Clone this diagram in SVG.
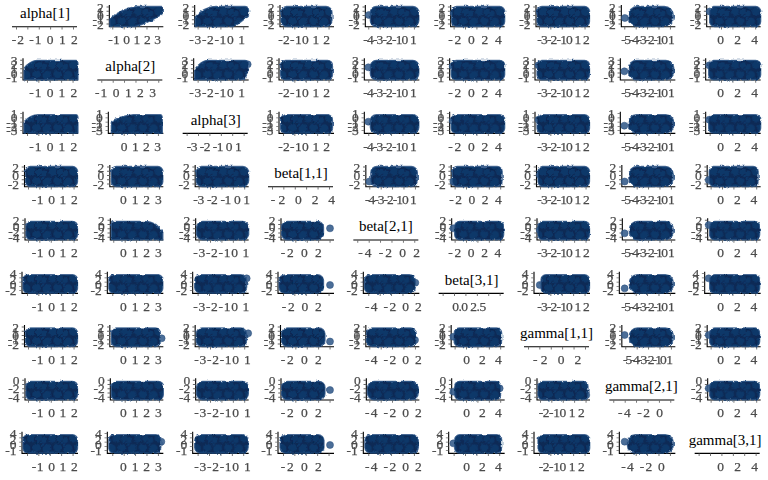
<svg xmlns="http://www.w3.org/2000/svg" width="768" height="480" viewBox="0 0 768 480">
<defs>
<style>
.ax{fill:none;stroke:#000;stroke-width:1.1}
.yt{fill:none;stroke:#666;stroke-width:2.6;stroke-dasharray:0.9 3.35}
.xt{fill:none;stroke:#666;stroke-width:2.6;stroke-dasharray:0.9 10.5}
.tl{font-family:"Liberation Serif","Times New Roman",serif;font-size:13.5px;fill:#4a4a4a;stroke:#4a4a4a;stroke-width:.25;opacity:.99}
.yl{text-anchor:end}
.tt{font-family:"Liberation Serif","Times New Roman",serif;font-size:15px;fill:#000;text-anchor:middle}
.cl{fill:url(#pts);stroke:#2b5384;stroke-width:1.3;stroke-opacity:.8;filter:url(#rough)}
.lo{fill:#375e8d;stroke:#284c7a;stroke-width:.5;fill-opacity:.9}
</style>
<filter id="rough" x="-10%" y="-25%" width="120%" height="150%">
<feTurbulence type="fractalNoise" baseFrequency="0.3" numOctaves="2" seed="4" result="n"/>
<feDisplacementMap in="SourceGraphic" in2="n" scale="3" xChannelSelector="R" yChannelSelector="G"/>
</filter>
<pattern id="pts" width="21" height="17" patternUnits="userSpaceOnUse">
<rect width="21" height="17" fill="#072a55"/>
<g fill="#0c3769" stroke="#03204a" stroke-width=".6">
<circle cx="5" cy="5" r="5"/><circle cx="15.5" cy="4" r="4.6"/><circle cx="10.5" cy="11.5" r="4.8"/>
<circle cx="2" cy="13.5" r="3.6"/><circle cx="18.5" cy="12.5" r="4.2"/><circle cx="21" cy="17" r="3"/><circle cx="0" cy="0" r="3"/>
</g>
</pattern>
<g id="dg"><path class="ax" d="M12,26.7H77"/><path class="xt" d="M16,28.1H77"/></g>
<g id="f0"><path class="ax" d="M24,5V26.7H78"/><path class="yt" d="M22.5,6.5V27"/><path class="xt" d="M27,28.1H77"/>
<g opacity=".99"><text class="tl yl" x="18.5" y="11.5">2</text><text class="tl yl" x="18.5" y="15.75">1</text><text class="tl yl" x="18.5" y="20">0</text><text class="tl yl" x="18.5" y="24.25">-1</text><text class="tl yl" x="18.5" y="28.5">-2</text></g></g>
<g id="f1"><path class="ax" d="M23,5V26.7H78"/><path class="yt" d="M21.5,6.5V27"/><path class="xt" d="M27,28.1H77"/>
<g opacity=".99"><text class="tl yl" x="17.5" y="11.5">3</text><text class="tl yl" x="17.5" y="15.75">2</text><text class="tl yl" x="17.5" y="20">1</text><text class="tl yl" x="17.5" y="24.25">0</text><text class="tl yl" x="17.5" y="28.5">-1</text></g></g>
<g id="f2"><path class="ax" d="M23,5V26.7H78"/><path class="yt" d="M21.5,6.5V27"/><path class="xt" d="M27,28.1H77"/>
<g opacity=".99"><text class="tl yl" x="17.5" y="11.5">1</text><text class="tl yl" x="17.5" y="15.75">0</text><text class="tl yl" x="17.5" y="20">-1</text><text class="tl yl" x="17.5" y="24.25">-2</text><text class="tl yl" x="17.5" y="28.5">-3</text></g></g>
<g id="f3"><path class="ax" d="M24.5,5V26.7H78"/><path class="yt" d="M23,6.5V27"/><path class="xt" d="M28,28.1H77"/>
<g opacity=".99"><text class="tl yl" x="19" y="11.5">2</text><text class="tl yl" x="19" y="20">0</text><text class="tl yl" x="19" y="28.5">-2</text></g></g>
<g id="f4"><path class="ax" d="M25,5V26.7H78"/><path class="yt" d="M23.5,6.5V27"/><path class="xt" d="M28,28.1H77"/>
<g opacity=".99"><text class="tl yl" x="19.5" y="11.5">2</text><text class="tl yl" x="19.5" y="17.2">0</text><text class="tl yl" x="19.5" y="22.8">-2</text><text class="tl yl" x="19.5" y="28.5">-4</text></g></g>
<g id="f5"><path class="ax" d="M22,5V26.7H78"/><path class="yt" d="M20.5,6.5V27"/><path class="xt" d="M27,28.1H77"/>
<g opacity=".99"><text class="tl yl" x="16.5" y="11.5">4</text><text class="tl yl" x="16.5" y="17.2">2</text><text class="tl yl" x="16.5" y="22.8">0</text><text class="tl yl" x="16.5" y="28.5">-2</text></g></g>
<g id="f6"><path class="ax" d="M24.5,5V26.7H78"/><path class="yt" d="M23,6.5V27"/><path class="xt" d="M28,28.1H77"/>
<g opacity=".99"><text class="tl yl" x="19" y="11.5">2</text><text class="tl yl" x="19" y="15.75">1</text><text class="tl yl" x="19" y="20">0</text><text class="tl yl" x="19" y="24.25">-1</text><text class="tl yl" x="19" y="28.5">-2</text></g></g>
<g id="f7"><path class="ax" d="M25,5V26.7H78"/><path class="yt" d="M23.5,6.5V27"/><path class="xt" d="M28,28.1H77"/>
<g opacity=".99"><text class="tl yl" x="19.5" y="11.5">0</text><text class="tl yl" x="19.5" y="20">-2</text><text class="tl yl" x="19.5" y="28.5">-4</text></g></g>
<g id="f8"><path class="ax" d="M22,5V26.7H78"/><path class="yt" d="M20.5,6.5V27"/><path class="xt" d="M27,28.1H77"/>
<g opacity=".99"><text class="tl yl" x="16.5" y="11.5">4</text><text class="tl yl" x="16.5" y="17.2">2</text><text class="tl yl" x="16.5" y="22.8">0</text><text class="tl yl" x="16.5" y="28.5">-1</text></g></g>
</defs>
<rect width="768" height="480" fill="#fff"/>

<!-- Row 0 -->
<g id="p00" transform="translate(0,0)"><use href="#dg"/><text class="tt" x="45" y="18">alpha[1]</text><text class="tl" x="11.7" y="44" textLength="66" lengthAdjust="spacing">-2 -1 0 1 2</text></g>
<g id="p01" transform="translate(85.33,0)"><use href="#f0"/><path class="cl" d="M24.5,26.5V19C30,14 40,8 52,6.5H76C77.5,6.5 78,8 78,9.5V13C72,18 60,24 50,26.5Z"/><text class="tl" x="23" y="44" textLength="52.7" lengthAdjust="spacing">-1 0 1 2 3</text></g>
<g id="p02" transform="translate(170.67,0)"><use href="#f0"/><path class="cl" d="M24.5,26.5V17C30,11 36,7 44,6.5H74C77,6.5 78,9 78,11V15C74,19 68,24 63,26.5Z"/><text class="tl" x="18.7" y="44" textLength="55.7" lengthAdjust="spacing">-3-2-10 1</text></g>
<g id="p03" transform="translate(256,0)"><use href="#f0"/><rect class="cl" x="25" y="6.5" width="51" height="20" rx="6"/><text class="tl" x="22.3" y="44" textLength="51.7" lengthAdjust="spacing">-2-10 1 2</text></g>
<g id="p04" transform="translate(341.33,0)"><use href="#f0"/><circle class="lo" cx="27.5" cy="15" r="3.5"/><rect class="cl" x="29" y="6.5" width="48.5" height="20" rx="6"/><text class="tl" x="22" y="44" textLength="53.4" lengthAdjust="spacing">-4-3-2-10 1</text></g>
<g id="p05" transform="translate(426.67,0)"><use href="#f0"/><circle class="lo" cx="27" cy="13" r="3.5"/><rect class="cl" x="25" y="6.5" width="53" height="20" rx="5"/><text class="tl" x="21.6" y="44" textLength="53.4" lengthAdjust="spacing">-2 0 2 4</text></g>
<g id="p06" transform="translate(512,0)"><use href="#f0"/><circle class="lo" cx="27.5" cy="11.5" r="3.5"/><rect class="cl" x="25" y="6.5" width="52.5" height="20" rx="5"/><text class="tl" x="25.3" y="44" textLength="52.4" lengthAdjust="spacing">-3-2-10 1 2</text></g>
<g id="p07" transform="translate(597.33,0)"><use href="#f0"/><circle class="lo" cx="27.5" cy="18" r="3.5"/><rect class="cl" x="31" y="6.5" width="45" height="20" rx="9"/><text class="tl" x="24" y="44" textLength="53.4" lengthAdjust="spacing">-5-4-3-2-10 1</text></g>
<g id="p08" transform="translate(682.67,0)"><use href="#f0"/><circle class="lo" cx="27" cy="11.5" r="3.5"/><rect class="cl" x="27" y="6.5" width="51" height="20" rx="5"/><text class="tl" x="34.6" y="44" textLength="40.7" lengthAdjust="spacing">0 2 4</text></g>

<!-- Row 1 -->
<g id="p10" transform="translate(0,53.33)"><use href="#f1"/><path class="cl" d="M24,26.5V15C27,11 31,7.5 37,7H76C77.5,7 78,9 78,11V26.5Z"/><text class="tl" x="29.3" y="44" textLength="48" lengthAdjust="spacing">-1 0 1 2</text></g>
<g id="p11" transform="translate(85.33,53.33)"><use href="#dg"/><text class="tt" x="45" y="18">alpha[2]</text><text class="tl" x="9.7" y="44" textLength="61" lengthAdjust="spacing">-1 0 1 2 3</text></g>
<g id="p12" transform="translate(170.67,53.33)"><use href="#f1"/><circle class="lo" cx="77" cy="11" r="3.5"/><path class="cl" d="M24,26.5V16C27,12 31,7.5 37,7H74C77,7 78,9 78,12L77,18C76,22 75,26.5 70,26.5Z"/><text class="tl" x="18.7" y="44" textLength="55.7" lengthAdjust="spacing">-3-2-10 1</text></g>
<g id="p13" transform="translate(256,53.33)"><use href="#f1"/><rect class="cl" x="24.5" y="7" width="52" height="19.5" rx="5"/><text class="tl" x="22.3" y="44" textLength="51.7" lengthAdjust="spacing">-2-10 1 2</text></g>
<g id="p14" transform="translate(341.33,53.33)"><use href="#f1"/><circle class="lo" cx="27" cy="14" r="3.5"/><rect class="cl" x="29" y="7" width="48.5" height="19.5" rx="6"/><text class="tl" x="22" y="44" textLength="53.4" lengthAdjust="spacing">-4-3-2-10 1</text></g>
<g id="p15" transform="translate(426.67,53.33)"><use href="#f1"/><circle class="lo" cx="26" cy="13" r="3.5"/><rect class="cl" x="24.5" y="7" width="53.5" height="19.5" rx="5"/><text class="tl" x="21.6" y="44" textLength="53.4" lengthAdjust="spacing">-2 0 2 4</text></g>
<g id="p16" transform="translate(512,53.33)"><use href="#f1"/><circle class="lo" cx="26.5" cy="12" r="3.5"/><rect class="cl" x="25" y="7" width="52.5" height="19.5" rx="5"/><text class="tl" x="25.3" y="44" textLength="52.4" lengthAdjust="spacing">-3-2-10 1 2</text></g>
<g id="p17" transform="translate(597.33,53.33)"><use href="#f1"/><circle class="lo" cx="27" cy="18" r="3.5"/><rect class="cl" x="31" y="7" width="45.5" height="19.5" rx="8"/><text class="tl" x="24" y="44" textLength="53.4" lengthAdjust="spacing">-5-4-3-2-10 1</text></g>
<g id="p18" transform="translate(682.67,53.33)"><use href="#f1"/><circle class="lo" cx="26.5" cy="12" r="3.5"/><rect class="cl" x="26" y="7" width="52" height="19.5" rx="5"/><text class="tl" x="34.6" y="44" textLength="40.7" lengthAdjust="spacing">0 2 4</text></g>

<!-- Row 2 -->
<g id="p20" transform="translate(0,106.67)"><use href="#f2"/><path class="cl" d="M24,26.5V15C28,11 32,8 38,8H76C77.5,8 78,10 78,12V26.5Z"/><text class="tl" x="29.3" y="44" textLength="48" lengthAdjust="spacing">-1 0 1 2</text></g>
<g id="p21" transform="translate(85.33,106.67)"><use href="#f2"/><path class="cl" d="M26,26.5V15C30,12 38,9 48,8H75C76.5,8 77,10 77,12V26.5Z"/><text class="tl" x="35.4" y="44" textLength="40.3" lengthAdjust="spacing">0 1 2 3</text></g>
<g id="p22" transform="translate(170.67,106.67)"><use href="#dg"/><text class="tt" x="45" y="18">alpha[3]</text><text class="tl" x="16" y="44" textLength="55" lengthAdjust="spacing">-3 -2 -1 0 1</text></g>
<g id="p23" transform="translate(256,106.67)"><use href="#f2"/><rect class="cl" x="24.5" y="8" width="52" height="18.5" rx="5"/><text class="tl" x="22.3" y="44" textLength="51.7" lengthAdjust="spacing">-2-10 1 2</text></g>
<g id="p24" transform="translate(341.33,106.67)"><use href="#f2"/><circle class="lo" cx="27" cy="15" r="3.5"/><rect class="cl" x="29" y="8" width="48.5" height="18.5" rx="6"/><text class="tl" x="22" y="44" textLength="53.4" lengthAdjust="spacing">-4-3-2-10 1</text></g>
<g id="p25" transform="translate(426.67,106.67)"><use href="#f2"/><circle class="lo" cx="26" cy="14" r="3.5"/><rect class="cl" x="24.5" y="8" width="53.5" height="18.5" rx="5"/><text class="tl" x="21.6" y="44" textLength="53.4" lengthAdjust="spacing">-2 0 2 4</text></g>
<g id="p26" transform="translate(512,106.67)"><use href="#f2"/><circle class="lo" cx="26.5" cy="13" r="3.5"/><rect class="cl" x="25" y="8" width="52.5" height="18.5" rx="5"/><text class="tl" x="25.3" y="44" textLength="52.4" lengthAdjust="spacing">-3-2-10 1 2</text></g>
<g id="p27" transform="translate(597.33,106.67)"><use href="#f2"/><circle class="lo" cx="27" cy="19" r="3.5"/><rect class="cl" x="31" y="8" width="45.5" height="18.5" rx="8"/><text class="tl" x="24" y="44" textLength="53.4" lengthAdjust="spacing">-5-4-3-2-10 1</text></g>
<g id="p28" transform="translate(682.67,106.67)"><use href="#f2"/><circle class="lo" cx="26.5" cy="13" r="3.5"/><rect class="cl" x="26" y="8" width="52" height="18.5" rx="5"/><text class="tl" x="34.6" y="44" textLength="40.7" lengthAdjust="spacing">0 2 4</text></g>

<!-- Row 3 -->
<g id="p30" transform="translate(0,160)"><use href="#f3"/><rect class="cl" x="25.5" y="6.5" width="52" height="20" rx="5"/><text class="tl" x="31.7" y="44" textLength="46" lengthAdjust="spacing">-1 0 1 2</text></g>
<g id="p31" transform="translate(85.33,160)"><use href="#f3"/><rect class="cl" x="26" y="6.5" width="51.5" height="20" rx="5"/><text class="tl" x="34.7" y="44" textLength="41.7" lengthAdjust="spacing">0 1 2 3</text></g>
<g id="p32" transform="translate(170.67,160)"><use href="#f3"/><rect class="cl" x="25.5" y="6.5" width="52.5" height="20" rx="6"/><text class="tl" x="22.7" y="44" textLength="56.7" lengthAdjust="spacing">-3 -2 -1 0 1</text></g>
<g id="p33" transform="translate(256,160)"><use href="#dg"/><text class="tt" x="45" y="18">beta[1,1]</text><text class="tl" x="14.7" y="44" textLength="64.3" lengthAdjust="spacing">-2 0 2 4</text></g>
<g id="p34" transform="translate(341.33,160)"><use href="#f3"/><circle class="lo" cx="28" cy="21.5" r="3.5"/><rect class="cl" x="29.5" y="6.5" width="46.5" height="20" rx="6"/><text class="tl" x="23.7" y="44" textLength="51.7" lengthAdjust="spacing">-4-3-2-10 1</text></g>
<g id="p35" transform="translate(426.67,160)"><use href="#f3"/><circle class="lo" cx="26.7" cy="21.5" r="3.5"/><rect class="cl" x="25.5" y="6.5" width="50" height="20" rx="5"/><text class="tl" x="22.6" y="44" textLength="52.4" lengthAdjust="spacing">-2 0 2 4</text></g>
<g id="p36" transform="translate(512,160)"><use href="#f3"/><circle class="lo" cx="27.7" cy="15" r="3.5"/><rect class="cl" x="26" y="6.5" width="51.5" height="20" rx="5"/><text class="tl" x="25.3" y="44" textLength="52.4" lengthAdjust="spacing">-3-2-10 1 2</text></g>
<g id="p37" transform="translate(597.33,160)"><use href="#f3"/><circle class="lo" cx="27.3" cy="21.5" r="3.5"/><rect class="cl" x="31.5" y="6.5" width="44.5" height="20" rx="8"/><text class="tl" x="24" y="44" textLength="53.4" lengthAdjust="spacing">-5-4-3-2-10 1</text></g>
<g id="p38" transform="translate(682.67,160)"><use href="#f3"/><circle class="lo" cx="26" cy="20" r="3.5"/><rect class="cl" x="26.5" y="6.5" width="49" height="20" rx="5"/><text class="tl" x="34.6" y="44" textLength="40" lengthAdjust="spacing">0 2 4</text></g>

<!-- Row 4 -->
<g id="p40" transform="translate(0,213.33)"><use href="#f4"/><rect class="cl" x="26" y="8" width="51.5" height="18.5" rx="5"/><text class="tl" x="31.7" y="44" textLength="46" lengthAdjust="spacing">-1 0 1 2</text></g>
<g id="p41" transform="translate(85.33,213.33)"><use href="#f4"/><path class="cl" d="M26,26.5V10.5C26,9 27.5,8 29.5,8H60C68,8 74,13 77.5,19V26.5Z"/><text class="tl" x="34.7" y="44" textLength="41.7" lengthAdjust="spacing">0 1 2 3</text></g>
<g id="p42" transform="translate(170.67,213.33)"><use href="#f4"/><rect class="cl" x="26" y="8" width="52" height="18.5" rx="6"/><text class="tl" x="22.7" y="44" textLength="56" lengthAdjust="spacing">-3-2-10 1</text></g>
<g id="p43" transform="translate(256,213.33)"><use href="#f4"/><circle class="lo" cx="74" cy="15" r="3.5"/><rect class="cl" x="25.5" y="8" width="42" height="18.5" rx="6"/><text class="tl" x="24.7" y="44" textLength="41" lengthAdjust="spacing">-2 0 2</text></g>
<g id="p44" transform="translate(341.33,213.33)"><use href="#dg"/><text class="tt" x="44.5" y="18">beta[2,1]</text><text class="tl" x="17" y="44" textLength="61.7" lengthAdjust="spacing">-4 -2 0 2</text></g>
<g id="p45" transform="translate(426.67,213.33)"><use href="#f4"/><circle class="lo" cx="26.7" cy="15" r="3.5"/><rect class="cl" x="28" y="8" width="49" height="18.5" rx="5"/><text class="tl" x="21.6" y="44" textLength="53" lengthAdjust="spacing">-2 0 2 4</text></g>
<g id="p46" transform="translate(512,213.33)"><use href="#f4"/><circle class="lo" cx="27.7" cy="16.7" r="3.5"/><rect class="cl" x="26" y="8" width="51.5" height="18.5" rx="5"/><text class="tl" x="25.3" y="44" textLength="52.4" lengthAdjust="spacing">-3-2-10 1 2</text></g>
<g id="p47" transform="translate(597.33,213.33)"><use href="#f4"/><circle class="lo" cx="27.3" cy="20" r="3.5"/><rect class="cl" x="32" y="8" width="44" height="18.5" rx="8"/><text class="tl" x="24" y="44" textLength="53.4" lengthAdjust="spacing">-5-4-3-2-10 1</text></g>
<g id="p48" transform="translate(682.67,213.33)"><use href="#f4"/><circle class="lo" cx="26" cy="11.7" r="3.5"/><rect class="cl" x="27" y="8" width="50" height="18.5" rx="5"/><text class="tl" x="34.6" y="44" textLength="40" lengthAdjust="spacing">0 2 4</text></g>

<!-- Row 5 -->
<g id="p50" transform="translate(0,266.67)"><use href="#f5"/><rect class="cl" x="23" y="8" width="54.5" height="18.5" rx="5"/><text class="tl" x="31.7" y="44" textLength="46" lengthAdjust="spacing">-1 0 1 2</text></g>
<g id="p51" transform="translate(85.33,266.67)"><use href="#f5"/><rect class="cl" x="23.5" y="8" width="54" height="18.5" rx="5"/><text class="tl" x="34.7" y="44" textLength="41.7" lengthAdjust="spacing">0 1 2 3</text></g>
<g id="p52" transform="translate(170.67,266.67)"><use href="#f5"/><circle class="lo" cx="76" cy="11.7" r="3.5"/><rect class="cl" x="24" y="8" width="52" height="18.5" rx="6"/><text class="tl" x="22.7" y="44" textLength="56" lengthAdjust="spacing">-3-2-10 1</text></g>
<g id="p53" transform="translate(256,266.67)"><use href="#f5"/><circle class="lo" cx="74" cy="18.3" r="3.5"/><rect class="cl" x="23" y="8" width="44.5" height="18.5" rx="6"/><text class="tl" x="25.7" y="44" textLength="40" lengthAdjust="spacing">-2 0 2</text></g>
<g id="p54" transform="translate(341.33,266.67)"><use href="#f5"/><circle class="lo" cx="74" cy="16" r="3.5"/><rect class="cl" x="23" y="8" width="51" height="18.5" rx="6"/><text class="tl" x="23.7" y="44" textLength="56.7" lengthAdjust="spacing">-4 -2 0 2</text></g>
<g id="p55" transform="translate(426.67,266.67)"><use href="#dg"/><text class="tt" x="45" y="18">beta[3,1]</text><text class="tl" x="25.5" y="44" textLength="34" lengthAdjust="spacing">0.0 2.5</text></g>
<g id="p56" transform="translate(512,266.67)"><use href="#f5"/><circle class="lo" cx="27.7" cy="18.3" r="3.5"/><rect class="cl" x="29" y="8" width="48.5" height="18.5" rx="5"/><text class="tl" x="25.3" y="44" textLength="52.4" lengthAdjust="spacing">-3-2-10 1 2</text></g>
<g id="p57" transform="translate(597.33,266.67)"><use href="#f5"/><circle class="lo" cx="27.3" cy="21.7" r="3.5"/><rect class="cl" x="32" y="8" width="44" height="18.5" rx="8"/><text class="tl" x="24" y="44" textLength="53.4" lengthAdjust="spacing">-5-4-3-2-10 1</text></g>
<g id="p58" transform="translate(682.67,266.67)"><use href="#f5"/><circle class="lo" cx="26" cy="11.7" r="3.5"/><rect class="cl" x="27" y="8" width="50" height="18.5" rx="5"/><text class="tl" x="34.6" y="44" textLength="40" lengthAdjust="spacing">0 2 4</text></g>

<!-- Row 6 -->
<g id="p60" transform="translate(0,320)"><use href="#f6"/><rect class="cl" x="25.5" y="8" width="52" height="18.5" rx="5"/><text class="tl" x="31.7" y="44" textLength="46" lengthAdjust="spacing">-1 0 1 2</text></g>
<g id="p61" transform="translate(85.33,320)"><use href="#f6"/><circle class="lo" cx="76.3" cy="18.3" r="3.5"/><rect class="cl" x="26" y="8" width="49" height="18.5" rx="5"/><text class="tl" x="34.7" y="44" textLength="41.7" lengthAdjust="spacing">0 1 2 3</text></g>
<g id="p62" transform="translate(170.67,320)"><use href="#f6"/><circle class="lo" cx="77.5" cy="13.3" r="3.5"/><rect class="cl" x="25.5" y="8" width="50.5" height="18.5" rx="6"/><text class="tl" x="23.6" y="44" textLength="56.4" lengthAdjust="spacing">-3-2-10 1</text></g>
<g id="p63" transform="translate(256,320)"><use href="#f6"/><circle class="lo" cx="74" cy="21.5" r="3.5"/><rect class="cl" x="25.5" y="8" width="43.5" height="18.5" rx="6"/><text class="tl" x="24.7" y="44" textLength="41" lengthAdjust="spacing">-2 0 2</text></g>
<g id="p64" transform="translate(341.33,320)"><use href="#f6"/><circle class="lo" cx="73.7" cy="20" r="3.5"/><rect class="cl" x="25" y="8" width="50" height="18.5" rx="6"/><text class="tl" x="23.7" y="44" textLength="56.7" lengthAdjust="spacing">-4 -2 0 2</text></g>
<g id="p65" transform="translate(426.67,320)"><use href="#f6"/><circle class="lo" cx="26.7" cy="16.7" r="3.5"/><rect class="cl" x="27.5" y="8" width="47.5" height="18.5" rx="5"/><text class="tl" x="36.6" y="44" textLength="38.4" lengthAdjust="spacing">0 2 4</text></g>
<g id="p66" transform="translate(512,320)"><use href="#dg"/><text class="tt" x="44.5" y="18">gamma[1,1]</text><text class="tl" x="21" y="44" textLength="48.3" lengthAdjust="spacing">-2 0 2</text></g>
<g id="p67" transform="translate(597.33,320)"><use href="#f6"/><circle class="lo" cx="27.3" cy="15" r="3.5"/><rect class="cl" x="32" y="8" width="44" height="18.5" rx="8"/><text class="tl" x="25.7" y="44" textLength="50" lengthAdjust="spacing">-5-4-3-2-10 1</text></g>
<g id="p68" transform="translate(682.67,320)"><use href="#f6"/><circle class="lo" cx="26" cy="15" r="3.5"/><rect class="cl" x="27" y="8" width="50" height="18.5" rx="5"/><text class="tl" x="34.6" y="44" textLength="40" lengthAdjust="spacing">0 2 4</text></g>

<!-- Row 7 -->
<g id="p70" transform="translate(0,373.33)"><use href="#f7"/><rect class="cl" x="26" y="8" width="51.5" height="18.5" rx="5"/><text class="tl" x="31.7" y="44" textLength="46" lengthAdjust="spacing">-1 0 1 2</text></g>
<g id="p71" transform="translate(85.33,373.33)"><use href="#f7"/><rect class="cl" x="26" y="8" width="52" height="18.5" rx="5"/><text class="tl" x="34.7" y="44" textLength="41.7" lengthAdjust="spacing">0 1 2 3</text></g>
<g id="p72" transform="translate(170.67,373.33)"><use href="#f7"/><rect class="cl" x="26" y="8" width="51.7" height="18.5" rx="6"/><text class="tl" x="23.6" y="44" textLength="56.4" lengthAdjust="spacing">-3-2-10 1</text></g>
<g id="p73" transform="translate(256,373.33)"><use href="#f7"/><circle class="lo" cx="74" cy="16.7" r="3.5"/><rect class="cl" x="25.5" y="8" width="43.5" height="18.5" rx="6"/><text class="tl" x="24.7" y="44" textLength="41" lengthAdjust="spacing">-2 0 2</text></g>
<g id="p74" transform="translate(341.33,373.33)"><use href="#f7"/><rect class="cl" x="26" y="8" width="51" height="18.5" rx="7"/><text class="tl" x="23.7" y="44" textLength="56.7" lengthAdjust="spacing">-4 -2 0 2</text></g>
<g id="p75" transform="translate(426.67,373.33)"><use href="#f7"/><circle class="lo" cx="26.7" cy="18.3" r="3.5"/><circle class="lo" cx="73" cy="15" r="3.5"/><rect class="cl" x="28" y="8" width="46" height="18.5" rx="5"/><text class="tl" x="36.6" y="44" textLength="38.4" lengthAdjust="spacing">0 2 4</text></g>
<g id="p76" transform="translate(512,373.33)"><use href="#f7"/><circle class="lo" cx="74.3" cy="21.7" r="3.5"/><rect class="cl" x="26" y="8" width="50" height="18.5" rx="5"/><text class="tl" x="26.7" y="44" textLength="46" lengthAdjust="spacing">-2-10 1 2</text></g>
<g id="p77" transform="translate(597.33,373.33)"><use href="#dg"/><text class="tt" x="44" y="18">gamma[2,1]</text><text class="tl" x="20.7" y="44" textLength="45" lengthAdjust="spacing">-4 -2 0</text></g>
<g id="p78" transform="translate(682.67,373.33)"><use href="#f7"/><circle class="lo" cx="26" cy="15" r="3.5"/><rect class="cl" x="27" y="8" width="50" height="18.5" rx="5"/><text class="tl" x="34.6" y="44" textLength="40" lengthAdjust="spacing">0 2 4</text></g>

<!-- Row 8 -->
<g id="p80" transform="translate(0,426.67)"><use href="#f8"/><rect class="cl" x="23" y="8" width="54.5" height="18.5" rx="5"/><text class="tl" x="31.7" y="44" textLength="46" lengthAdjust="spacing">-1 0 1 2</text></g>
<g id="p81" transform="translate(85.33,426.67)"><use href="#f8"/><circle class="lo" cx="76" cy="15" r="3.5"/><rect class="cl" x="23.5" y="8" width="52" height="18.5" rx="5"/><text class="tl" x="34.7" y="44" textLength="41.7" lengthAdjust="spacing">0 1 2 3</text></g>
<g id="p82" transform="translate(170.67,426.67)"><use href="#f8"/><rect class="cl" x="24" y="8" width="53.5" height="18.5" rx="6"/><text class="tl" x="23.6" y="44" textLength="56.4" lengthAdjust="spacing">-3-2-10 1</text></g>
<g id="p83" transform="translate(256,426.67)"><use href="#f8"/><circle class="lo" cx="74" cy="18.3" r="3.5"/><rect class="cl" x="24" y="8" width="44" height="18.5" rx="6"/><text class="tl" x="24.7" y="44" textLength="41" lengthAdjust="spacing">-2 0 2</text></g>
<g id="p84" transform="translate(341.33,426.67)"><use href="#f8"/><rect class="cl" x="23.5" y="8" width="53.5" height="18.5" rx="6"/><text class="tl" x="23.7" y="44" textLength="56.7" lengthAdjust="spacing">-4 -2 0 2</text></g>
<g id="p85" transform="translate(426.67,426.67)"><use href="#f8"/><circle class="lo" cx="26.7" cy="16.7" r="3.5"/><rect class="cl" x="28" y="8" width="47" height="18.5" rx="5"/><text class="tl" x="36.6" y="44" textLength="38.4" lengthAdjust="spacing">0 2 4</text></g>
<g id="p86" transform="translate(512,426.67)"><use href="#f8"/><rect class="cl" x="26" y="8" width="51.7" height="18.5" rx="5"/><text class="tl" x="26.7" y="44" textLength="46" lengthAdjust="spacing">-2-10 1 2</text></g>
<g id="p87" transform="translate(597.33,426.67)"><use href="#f8"/><circle class="lo" cx="27.3" cy="15" r="3.5"/><rect class="cl" x="30" y="8" width="46" height="18.5" rx="8"/><text class="tl" x="24" y="44" textLength="43.4" lengthAdjust="spacing">-4 -2 0</text></g>
<g id="p88" transform="translate(682.67,426.67)"><use href="#dg"/><text class="tt" x="42.5" y="18">gamma[3,1]</text><text class="tl" x="34.7" y="44" textLength="40.7" lengthAdjust="spacing">0 2 4</text></g>
</svg>
